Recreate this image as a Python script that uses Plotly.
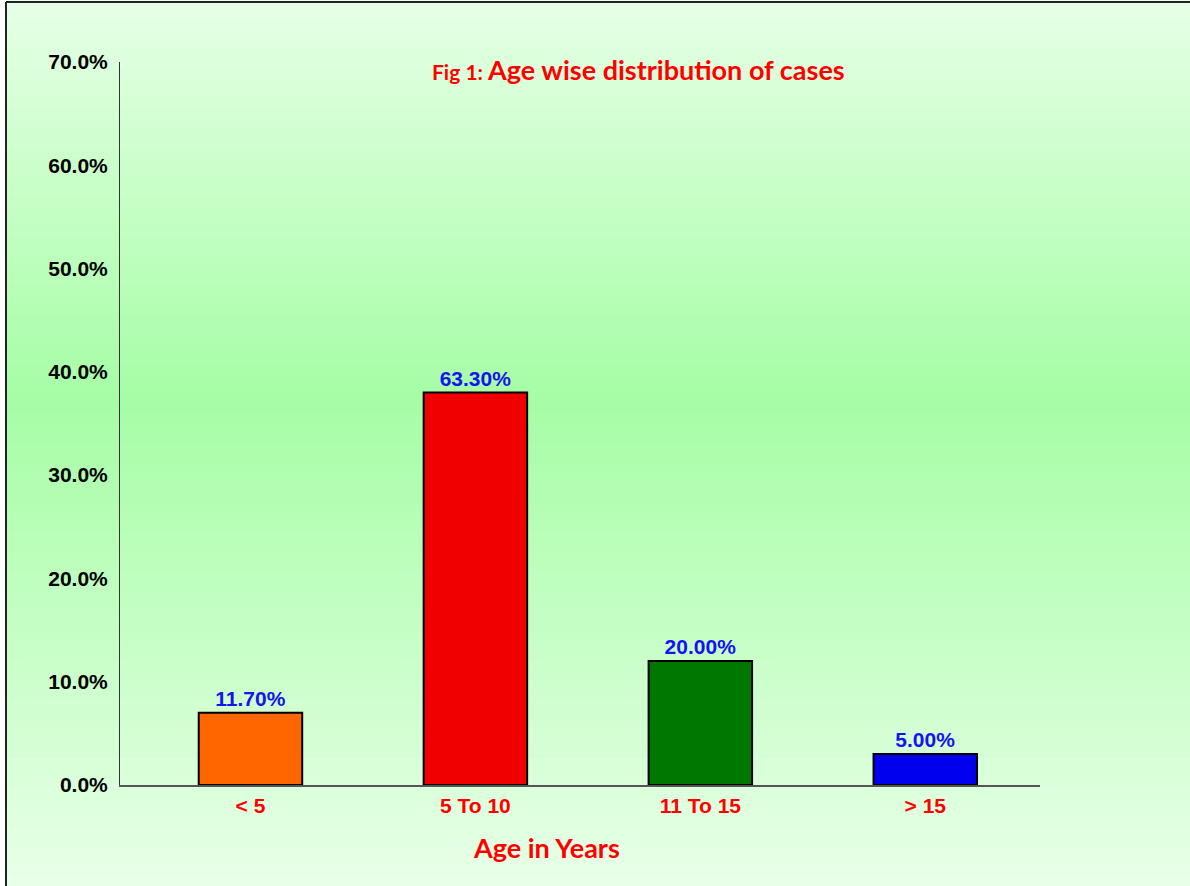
import plotly.graph_objects as go

# data: bars are case counts (n = 60), labels are their shares
age_groups = ["< 5", "5 To 10", "11 To 15", "> 15"]
case_counts = [7, 38, 12, 3]
share_labels = ["11.70%", "63.30%", "20.00%", "5.00%"]
y_tick_values = [0, 10, 20, 30, 40, 50, 60, 70]
y_tick_text = ["0.0%", "10.0%", "20.0%", "30.0%", "40.0%", "50.0%", "60.0%", "70.0%"]
bar_colors = ["#FF6600", "#F00000", "#007800", "#0000EE"]

W, H = 1190, 886
L, R, T, B = 120, 150, 62, 101
PW, PH = W - L - R, H - T - B


def px_x(v):
    return (v - L) / PW


def px_y(v):
    return 1 - (v - T) / PH


def lerp(c1, c2, f):
    return tuple(round(a + (b - a) * f) for a, b in zip(c1, c2))


fig = go.Figure()
fig.add_trace(
    go.Bar(
        x=age_groups,
        y=case_counts,
        width=0.46,
        marker=dict(color=bar_colors, line=dict(color="black", width=2)),
        text=share_labels,
        textposition="outside",
        textfont=dict(family="Liberation Sans, Arial", size=21, color="#1414F0", weight="bold"),
        cliponaxis=False,
        hoverinfo="x+y",
    )
)

# soft green vertical gradient behind everything
top_c, mid_c, bot_c = (230, 255, 230), (166, 253, 166), (232, 255, 232)
n_strips = 90
shapes = []
for i in range(n_strips):
    f = i / (n_strips - 1)
    y0 = i * H / n_strips
    c = lerp(top_c, mid_c, f / 0.45) if f < 0.45 else lerp(mid_c, bot_c, (f - 0.45) / 0.55)
    shapes.append(dict(
        type="rect", xref="paper", yref="paper", layer="below",
        x0=px_x(6), x1=px_x(W + 2), y0=px_y(y0 + H / n_strips + 1), y1=px_y(y0),
        fillcolor="rgb(%d,%d,%d)" % c, line=dict(width=0),
    ))
# frame lines (top and left)
shapes.append(dict(type="line", xref="paper", yref="paper", x0=px_x(6), x1=px_x(W + 2),
                   y0=px_y(2), y1=px_y(2), line=dict(color="#222", width=2)))
shapes.append(dict(type="line", xref="paper", yref="paper", x0=px_x(6), x1=px_x(6),
                   y0=px_y(2), y1=px_y(H + 2), line=dict(color="#222", width=2)))

title_font = dict(family="Lato, Open Sans", color="#FF0000", weight="bold")
annotations = [
    dict(
        text="<span style='font-size:21px'>Fig 1: </span>Age wise distribution of cases",
        xref="paper", yref="paper", x=px_x(638), y=px_y(70),
        xanchor="center", yanchor="middle", showarrow=False,
        font=dict(size=27, **title_font),
    ),
    dict(
        text="Age in Years",
        xref="paper", yref="paper", x=px_x(546), y=px_y(848),
        xanchor="center", yanchor="middle", showarrow=False,
        font=dict(size=27, **title_font),
    ),
]

fig.update_layout(
    width=W,
    height=H,
    margin=dict(l=L, r=R, t=T, b=B),
    paper_bgcolor="white",
    plot_bgcolor="rgba(0,0,0,0)",
    showlegend=False,
    shapes=shapes,
    annotations=annotations,
)
fig.update_xaxes(
    range=[-0.58, 3.51],
    showgrid=False,
    showline=True,
    linecolor="#555",
    linewidth=1.5,
    ticks="",
    ticklabelstandoff=1,
    tickfont=dict(family="Liberation Sans, Arial", size=21, color="#FF0000", weight="bold"),
)
fig.update_yaxes(
    range=[0, 70],
    tickvals=y_tick_values,
    ticktext=y_tick_text,
    showgrid=False,
    zeroline=False,
    showline=True,
    linecolor="#333",
    linewidth=1,
    ticks="",
    ticklabelstandoff=7,
    tickfont=dict(family="Liberation Sans, Arial", size=21, color="black", weight="bold"),
)

# page body margin would shift the fixed-size figure; drop it
fig.write_html(
    "out.html",
    config={"displayModeBar": False},
    post_script="document.body.style.margin='0';",
)
